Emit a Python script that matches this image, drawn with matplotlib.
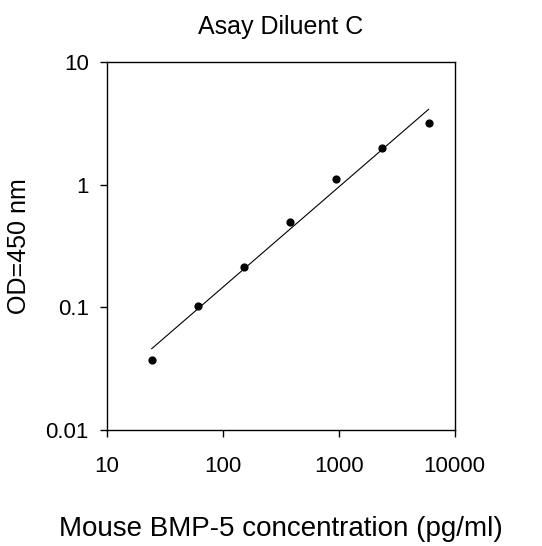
import numpy as np
import matplotlib
matplotlib.use("Agg")
import matplotlib.pyplot as plt
from matplotlib.ticker import FixedLocator, NullLocator

plt.rcParams['font.family'] = ['Liberation Sans', 'DejaVu Sans']

# concentración (pg/ml) y OD
conc = [24.4, 61, 153, 381, 952, 2380, 5950]
od = [0.037, 0.103, 0.215, 0.50, 1.12, 2.0, 3.2]
x_ticks = [10, 100, 1000, 10000]
y_ticks = [0.01, 0.1, 1, 10]
y_labels = ["0.01", "0.1", "1", "10"]

fig = plt.figure(figsize=(5.42, 5.46), dpi=100)
ax = fig.add_axes([0.197, 0.2125, 0.642, 0.674])

# recta de ajuste log-log
lx, ly = np.log10(conc), np.log10(od)
m, b = np.polyfit(lx, ly, 1)
xf = np.array([conc[0], conc[-1]])
ax.plot(xf, 10 ** (m * np.log10(xf) + b), color="black", linewidth=0.8)
ax.scatter(conc, od, s=24, color="black", zorder=3)

ax.set_xscale("log")
ax.set_yscale("log")
ax.set_xlim(10, 10000)
ax.set_ylim(0.01, 10)
ax.xaxis.set_major_locator(FixedLocator(x_ticks))
ax.yaxis.set_major_locator(FixedLocator(y_ticks))
ax.xaxis.set_minor_locator(NullLocator())
ax.yaxis.set_minor_locator(NullLocator())
ax.set_xticklabels([str(v) for v in x_ticks], fontsize=16)
ax.set_yticklabels(y_labels, fontsize=16)
ax.tick_params(direction="out", length=5, width=1)
ax.tick_params(axis="x", pad=14)
ax.tick_params(axis="y", pad=8)
for s in ax.spines.values():
    s.set_linewidth(1)

ax.set_title("Asay Diluent C", fontsize=18, pad=20)
ax.set_ylabel("OD=450 nm", fontsize=18, labelpad=10)
ax.set_xlabel("Mouse BMP-5 concentration (pg/ml)", fontsize=20, labelpad=28)

fig.savefig("out.png", dpi=100)
